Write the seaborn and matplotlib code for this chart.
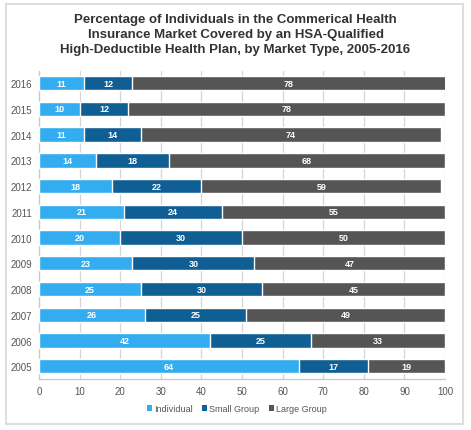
import matplotlib
matplotlib.use("Agg")
import matplotlib.pyplot as plt
import seaborn as sns
import pandas as pd
import numpy as np
from matplotlib.patches import Rectangle, Patch

years = ["2016", "2015", "2014", "2013", "2012", "2011", "2010", "2009", "2008", "2007", "2006", "2005"]
individual = [11, 10, 11, 14, 18, 21, 20, 23, 25, 26, 42, 64]
small_group = [12, 12, 14, 18, 22, 24, 30, 30, 30, 25, 25, 17]
large_group = [78, 78, 74, 68, 59, 55, 50, 47, 45, 49, 33, 19]
series_names = ["Individual", "Small Group", "Large Group"]
colors = ["#33adf0", "#0f5e94", "#555555"]
x_ticks = [0, 10, 20, 30, 40, 50, 60, 70, 80, 90, 100]

sns.set_theme(style="white")
plt.rcParams['font.family'] = ['Liberation Sans', 'DejaVu Sans']

df = pd.DataFrame({"year": years, "ind": individual, "small": small_group, "large": large_group})
df["c1"] = df["ind"]
df["c2"] = df["ind"] + df["small"]
df["c3"] = df["ind"] + df["small"] + df["large"]

fig = plt.figure(figsize=(4.71, 4.31), dpi=100)
ax = fig.add_axes([0.083, 0.118, 0.862, 0.715])

for col, c in zip(["c3", "c2", "c1"], colors[::-1]):
    sns.barplot(data=df, x=col, y="year", order=years, color=c, orient="h",
                width=0.56, ax=ax, saturation=1, zorder=3)

# value labels
for i in range(len(years)):
    starts = [0, individual[i], individual[i] + small_group[i]]
    vals = [individual[i], small_group[i], large_group[i]]
    for s, v in zip(starts, vals):
        end = min(s + v, 100)
        ax.text((s + end) / 2, i, str(v), ha="center", va="center",
                color="white", fontsize=6.5, fontweight="bold", zorder=5)

ax.set_xlim(0, 100)
ax.set_ylim(11.5, -0.47)
ax.set_xticks(x_ticks)
ax.set_xticklabels([str(t) for t in x_ticks])
ax.set_xlabel("")
ax.set_ylabel("")
ax.tick_params(axis="both", labelsize=7, colors="#555555", length=0, pad=5)
ax.xaxis.grid(True, color="#d4d4d4", linewidth=0.9, zorder=0)
ax.yaxis.grid(False)
for side in ["top", "right"]:
    ax.spines[side].set_visible(False)
for side in ["left", "bottom"]:
    ax.spines[side].set_color("#c8c8c8")
    ax.spines[side].set_linewidth(0.9)

fig.text(0.5, 0.967, "Percentage of Individuals in the Commerical Health\n"
         "Insurance Market Covered by an HSA-Qualified\n"
         "High-Deductible Health Plan, by Market Type, 2005-2016",
         ha="center", va="top", fontsize=9.5, fontweight="bold", color="#333333",
         linespacing=1.3)

handles = [Patch(facecolor=c, edgecolor="none") for c in colors]
fig.legend(handles, series_names, loc="center", bbox_to_anchor=(0.503, 0.049),
           ncol=3, frameon=False, fontsize=6.5, handlelength=0.55, handleheight=0.55,
           handletextpad=0.25, columnspacing=1.0, labelcolor="#555555")

border = Rectangle((0.013, 0.014), 0.97, 0.974, transform=fig.transFigure,
                   fill=False, edgecolor="#d8d8d8", linewidth=1.2)
fig.patches.append(border)

fig.savefig("out.png", dpi=100, facecolor="white")
